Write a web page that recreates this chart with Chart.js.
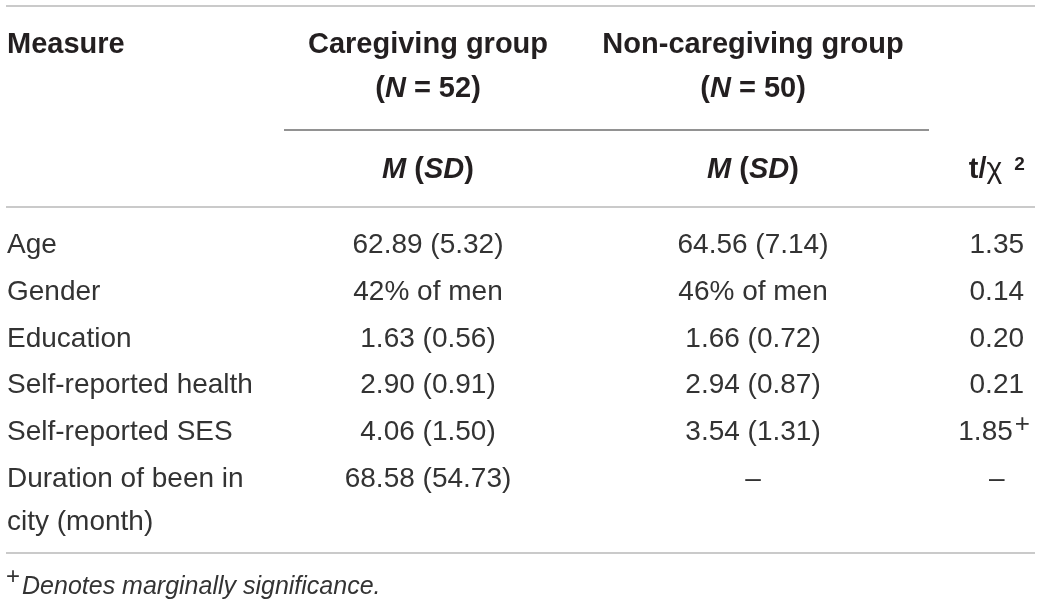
<!DOCTYPE html>
<html>
<head>
<meta charset="utf-8">
<script src="https://cdn.jsdelivr.net/npm/chart.js@4.4.1/dist/chart.umd.min.js"></script>
<style>
  html, body { margin: 0; padding: 0; background: #fff; }
  canvas { display: block; }
</style>
</head>
<body>
<canvas id="tableChart" width="1041" height="606"></canvas>
<script>
// table content
const measures = ['Age', 'Gender', 'Education', 'Self-reported health', 'Self-reported SES', ['Duration of been in', 'city (month)']];
const caregiving = ['62.89 (5.32)', '42% of men', '1.63 (0.56)', '2.90 (0.91)', '4.06 (1.50)', '68.58 (54.73)'];
const nonCaregiving = ['64.56 (7.14)', '46% of men', '1.66 (0.72)', '2.94 (0.87)', '3.54 (1.31)', '–'];
const testStat = ['1.35', '0.14', '0.20', '0.21', '1.85', '–'];
const statMarks = ['', '', '', '', '+', ''];
const groupNames = ['Caregiving group', 'Non-caregiving group'];
const groupSizes = ['52', '50'];
const footnote = 'Denotes marginally significance.';

// column slots on the x scale (caregiving, non-caregiving, t/chi2)
const colSlots = [0, 4, 7];

const FONT = "'Liberation Sans', Arial, Helvetica, sans-serif";
const INK = '#231f20';
const BODY_INK = '#333333';

function cells(values, slot, marks) {
  return values.map((v, i) => ({ x: slot, y: i, text: v, mark: marks ? marks[i] : '' }));
}

// draw a run of styled pieces, aligned as a whole
function drawRun(ctx, pieces, x, y, align) {
  const w = p => p.pad || (ctx.font = p.font, ctx.measureText(p.t).width);
  let total = 0;
  pieces.forEach(p => { total += w(p); });
  let cx = align === 'center' ? x - total / 2 : (align === 'right' ? x - total : x);
  ctx.textAlign = 'left';
  pieces.forEach(p => {
    if (p.pad) { cx += p.pad; return; }
    ctx.font = p.font;
    ctx.fillText(p.t, cx, y - (p.rise || 0));
    cx += ctx.measureText(p.t).width;
  });
}

function rule(ctx, x1, x2, y, color) {
  ctx.save();
  ctx.strokeStyle = color;
  ctx.lineWidth = 1.5;
  ctx.beginPath();
  ctx.moveTo(x1, y);
  ctx.lineTo(x2, y);
  ctx.stroke();
  ctx.restore();
}

const tablePlugin = {
  id: 'tablePlugin',
  afterDatasetsDraw(chart) {
    const ctx = chart.ctx;
    const xs = chart.scales.x;
    const ys = chart.scales.y;
    const area = chart.chartArea;
    const W = chart.width;
    const bold = '700 29px ' + FONT;
    const boldIt = 'italic 700 29px ' + FONT;
    const body = '400 28px ' + FONT;

    ctx.save();
    ctx.fillStyle = INK;
    ctx.textBaseline = 'alphabetic';

    const cCare = xs.getPixelForValue(colSlots[0]);
    const cNon = xs.getPixelForValue(colSlots[1]);
    const cStat = xs.getPixelForValue(colSlots[2]);

    // header
    rule(ctx, 6, W - 6, 6, '#b8b8b8');
    drawRun(ctx, [{ t: 'Measure', font: bold }], 7, 53, 'left');
    groupNames.forEach((g, k) => {
      const cx = k === 0 ? cCare : cNon;
      drawRun(ctx, [{ t: g, font: bold }], cx, 53, 'center');
      drawRun(ctx, [
        { t: '(', font: bold }, { t: 'N', font: boldIt },
        { t: ' = ' + groupSizes[k] + ')', font: bold }
      ], cx, 97, 'center');
      drawRun(ctx, [
        { t: 'M', font: boldIt }, { t: ' (', font: bold },
        { t: 'SD', font: boldIt }, { t: ')', font: bold }
      ], cx, 178, 'center');
    });
    rule(ctx, cCare - 144, cNon + 176, 130, '#6e6e6e');
    drawRun(ctx, [
      { t: 't/', font: bold }, { t: 'χ', font: '400 30px ' + FONT },
      { pad: 12 },
      { t: '2', font: '700 19px ' + FONT, rise: 8 }
    ], cStat + 28, 178, 'right');
    rule(ctx, 6, W - 6, 207, '#b8b8b8');

    // measure column from the y scale
    ctx.fillStyle = BODY_INK;
    measures.forEach((m, i) => {
      const yb = ys.getPixelForValue(i) + 10;
      const lines = Array.isArray(m) ? m : [m];
      lines.forEach((ln, j) => drawRun(ctx, [{ t: ln, font: body }], 7, yb + j * 43, 'left'));
    });

    // value cells from the scatter elements
    chart.data.datasets.forEach((ds, di) => {
      const meta = chart.getDatasetMeta(di);
      meta.data.forEach((el, i) => {
        const c = ds.data[i];
        if (c.mark) {
          drawRun(ctx, [{ t: c.text, font: body }], el.x + 16, el.y + 10, 'right');
          drawRun(ctx, [{ t: c.mark, font: '300 26px ' + FONT }], el.x + 18, el.y + 2, 'left');
        } else {
          drawRun(ctx, [{ t: c.text, font: body }], el.x, el.y + 10, 'center');
        }
      });
    });

    // footer
    rule(ctx, 6, W - 6, area.bottom + 52.6, '#b8b8b8');
    drawRun(ctx, [
      { t: '+', font: '300 24px ' + FONT, rise: 10 },
      { pad: 2 },
      { t: footnote, font: 'italic 400 25px ' + FONT }
    ], 6, 594, 'left');
    ctx.restore();
  }
};

new Chart(document.getElementById('tableChart').getContext('2d'), {
  type: 'scatter',
  data: {
    datasets: [
      { label: groupNames[0], data: cells(caregiving, colSlots[0]) },
      { label: groupNames[1], data: cells(nonCaregiving, colSlots[1]) },
      { label: 't/χ2', data: cells(testStat, colSlots[2], statMarks) }
    ]
  },
  options: {
    responsive: false,
    animation: false,
    devicePixelRatio: 1,
    layout: { padding: { left: 265.5, right: 3.6, top: 219.6, bottom: 105.6 } },
    elements: { point: { radius: 0, hoverRadius: 0 } },
    scales: {
      x: { type: 'linear', min: -2, max: 7.5, display: false },
      y: { type: 'category', labels: measures, offset: true, display: false }
    },
    plugins: {
      legend: { display: false },
      tooltip: { enabled: false }
    }
  },
  plugins: [tablePlugin]
});
</script>
</body>
</html>
